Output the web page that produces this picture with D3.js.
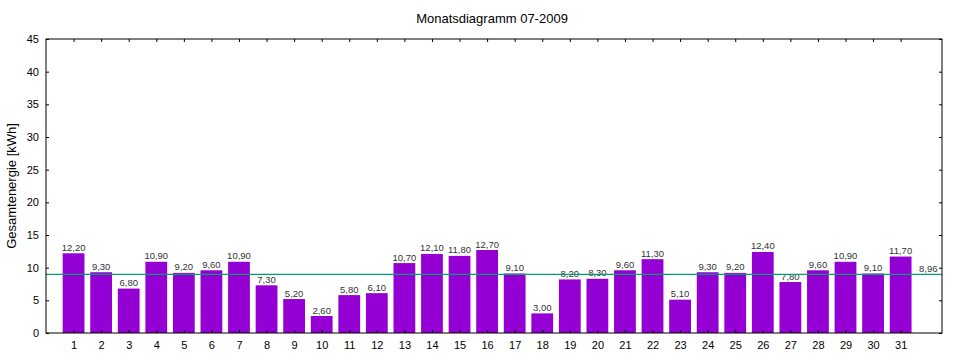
<!DOCTYPE html>
<html><head><meta charset="utf-8">
<script src="https://cdn.jsdelivr.net/npm/d3@7"></script>
<style>body{margin:0;background:#fff}svg{display:block}text{font-family:"Liberation Sans",Arial,sans-serif}</style>
</head><body><svg id="c" width="960" height="360"></svg>
<script>
const days = d3.range(1, 32);
const values = [12.2,9.3,6.8,10.9,9.2,9.6,10.9,7.3,5.2,2.6,5.8,6.1,10.7,12.1,11.8,12.7,9.1,3.0,8.2,8.3,9.6,11.3,5.1,9.3,9.2,12.4,7.8,9.6,10.9,9.1,11.7];
const average = 8.96;
const yTicks = [0,5,10,15,20,25,30,35,40,45];
const title = "Monatsdiagramm 07-2009";
const yLabel = "Gesamtenergie [kWh]";

const fmt = v => v.toFixed(2).replace(".", ",");
const FF = "Liberation Sans";
const svg = d3.select("#c");
const L = 46, R = 942, T = 39, B = 333;
const x = d3.scaleLinear().domain([0, 32.5]).range([L, R]);
const y = d3.scaleLinear().domain([0, 45]).range([B, T]);
const bw = (x(1) - x(0)) * 0.79;

svg.append("g").selectAll("rect").data(values).join("rect")
  .attr("x", (d,i) => x(days[i]) - bw/2).attr("width", bw)
  .attr("y", d => y(d)).attr("height", d => y(0) - y(d))
  .attr("fill", "#9400d3");

svg.append("g").selectAll("text").data(values).join("text")
  .attr("x", (d,i) => x(days[i])).attr("y", d => y(d) - 2.5)
  .attr("text-anchor", "middle").attr("font-size", 9.5).attr("fill", "#333")
  .text(d => fmt(d));

svg.append("line").attr("x1", L).attr("x2", R).attr("y1", y(average)).attr("y2", y(average))
  .attr("stroke", "#009e73").attr("stroke-width", 1.2);
svg.append("text").attr("x", x(32)).attr("y", y(average) - 2.5)
  .attr("text-anchor", "middle").attr("font-size", 9.5).attr("fill", "#333").text(fmt(average));

// axes (ticks inward, mirrored)
const ax = g => g.selectAll(".domain").remove();
svg.append("g").attr("transform", `translate(0,${B})`)
  .call(d3.axisBottom(x).tickValues(days).tickSize(-3).tickPadding(8).tickFormat(d3.format("d")))
  .call(ax).call(g => g.selectAll("text").attr("font-size", 11).attr("font-family", FF));
svg.append("g").attr("transform", `translate(0,${T})`)
  .call(d3.axisTop(x).tickValues(days).tickSize(-3).tickFormat(""))
  .call(ax);
svg.append("g").attr("transform", `translate(${L},0)`)
  .call(d3.axisLeft(y).tickValues(yTicks).tickSize(-3).tickPadding(7))
  .call(ax).call(g => g.selectAll("text").attr("font-size", 11).attr("font-family", FF));
svg.append("g").attr("transform", `translate(${R},0)`)
  .call(d3.axisRight(y).tickValues(yTicks).tickSize(-3).tickFormat(""))
  .call(ax);
svg.selectAll(".tick line").attr("stroke", "#000");
svg.selectAll(".tick text").attr("fill", "#000");

svg.append("rect").attr("x", L).attr("y", T).attr("width", R - L).attr("height", B - T)
  .attr("fill", "none").attr("stroke", "#000").attr("stroke-width", 1);

svg.append("text").attr("x", 492).attr("y", 23).attr("text-anchor", "middle")
  .attr("font-size", 13).text(title);
svg.append("text").attr("transform", `translate(16,${(T+B)/2}) rotate(-90)`)
  .attr("text-anchor", "middle").attr("font-size", 13).text(yLabel);
</script></body></html>
